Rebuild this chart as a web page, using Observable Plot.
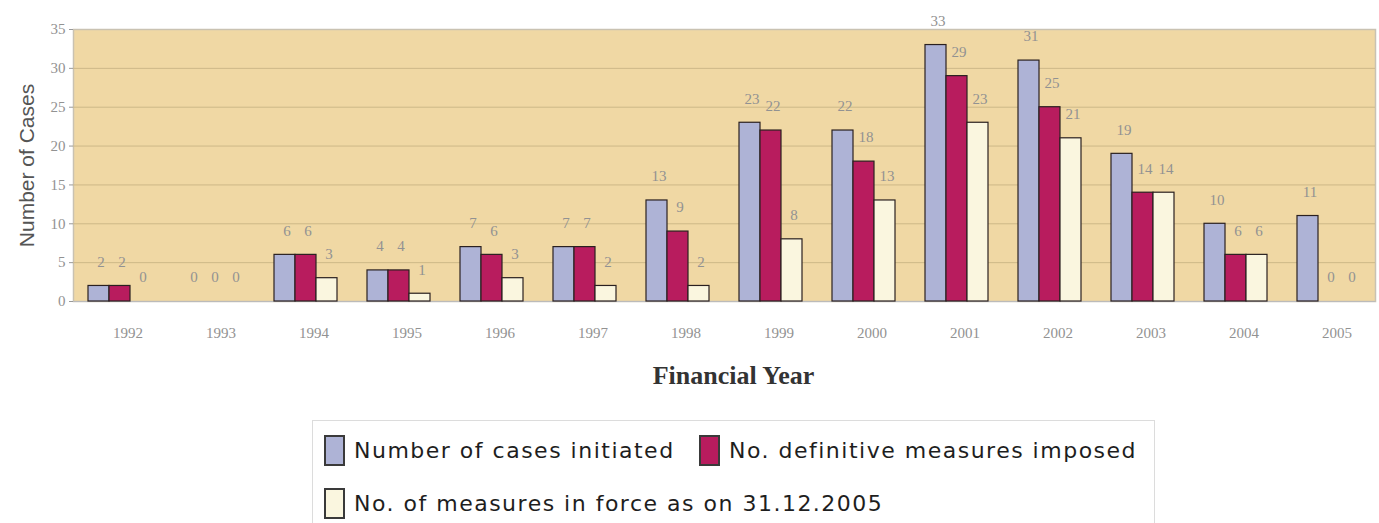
<!DOCTYPE html>
<html>
<head>
<meta charset="utf-8">
<script src="https://cdn.jsdelivr.net/npm/d3@7"></script>
<script src="https://cdn.jsdelivr.net/npm/@observablehq/plot@0.6"></script>
<style>
  html, body { margin: 0; padding: 0; background: #fff; }
  #wrap { position: relative; width: 1379px; height: 523px; overflow: hidden; }
  #chart { position: absolute; left: 0; top: 0; }
  #legend {
    position: absolute; left: 312px; top: 420px; width: 843px; height: 110px;
    border: 1.5px solid #dcdcdc; box-sizing: border-box;
    font-family: "DejaVu Sans", Verdana, sans-serif; font-size: 22px; letter-spacing: 1.5px; color: #1e1e1e;
  }
  .item { position: absolute; display: flex; align-items: center; white-space: nowrap; height: 32px; }
  .sw { width: 21px; height: 31px; border: 2px solid #3a3a3a; margin-right: 9px; box-sizing: border-box; }
</style>
</head>
<body>
<div id="wrap">
  <div id="chart"></div>
  <div id="legend"></div>
</div>
<script>
const years = ["1992","1993","1994","1995","1996","1997","1998","1999","2000","2001","2002","2003","2004","2005"];
const seriesNames = ["Number of cases initiated", "No. definitive measures imposed", "No. of measures in force as on 31.12.2005"];
const seriesColors = ["#aeb3d6", "#b81c5e", "#faf6df"];
const casesInitiated = [2, 0, 6, 4, 7, 7, 13, 23, 22, 33, 31, 19, 10, 11];
const definitiveMeasures = [2, 0, 6, 4, 6, 7, 9, 22, 18, 29, 25, 14, 6, 0];
const measuresInForce = [0, 0, 3, 1, 3, 2, 2, 8, 13, 23, 21, 14, 6, 0];
const yTicks = [0, 5, 10, 15, 20, 25, 30, 35];

const allSeries = [casesInitiated, definitiveMeasures, measuresInForce];
const data = [];
years.forEach((yr, i) => {
  allSeries.forEach((arr, s) => data.push({year: yr, series: seriesNames[s], value: arr[i]}));
});

const chart = Plot.plot({
  width: 1379,
  height: 400,
  marginLeft: 72,
  marginRight: 3,
  marginTop: 29,
  marginBottom: 99,
  style: {background: "transparent"},
  fx: {domain: years, padding: 0, label: null, axis: null},
  x: {domain: seriesNames, paddingInner: 0, paddingOuter: 0.62, axis: null},
  y: {domain: [0, 35], ticks: yTicks, axis: null},
  color: {domain: seriesNames, range: seriesColors},
  marks: [
    Plot.frame({fill: "#f0d8a4", stroke: "#c9c2b2", strokeWidth: 1.5, facet: "super"}),
    Plot.ruleY(yTicks.slice(1, -1), {stroke: "#cdb888", strokeWidth: 1}),
    Plot.ruleY([0], {stroke: "#bbb"}),
    Plot.barY(data, {fx: "year", x: "series", y: "value", fill: "series", stroke: "#2a2020", strokeWidth: 1.2, inset: 0}),
    Plot.text(data, {fx: "year", x: "series", y: "value", text: d => String(d.value), dy: -24, dx: 2,
      fill: "#929292", fontFamily: "Liberation Serif, Times New Roman, serif", fontSize: 15}),
    Plot.axisY({ticks: yTicks, tickSize: 4, tickPadding: 4, stroke: "#999", color: "#929292",
      fontFamily: "Liberation Serif, serif", fontSize: 15,
      label: "Number of Cases", labelAnchor: "center", labelOffset: 54, labelArrow: "none"}),
    Plot.axisFx({anchor: "bottom", tickSize: 0, tickPadding: 26, color: "#929292", dx: 8,
      fontFamily: "Liberation Serif, serif", fontSize: 15,
      label: "Financial Year", labelAnchor: "center", labelOffset: 82, labelArrow: "none"})
  ]
});

// style axis labels
chart.querySelectorAll("[aria-label='y-axis label'] text, [aria-label='y-axis label']").forEach(el => {
  el.setAttribute("font-family", "Liberation Sans, Arial, sans-serif");
  el.setAttribute("font-size", "21");
  el.setAttribute("fill", "#555");
});
chart.querySelectorAll("[aria-label='fx-axis label'] text, [aria-label='fx-axis label']").forEach(el => {
  el.setAttribute("font-family", "Liberation Serif, Times New Roman, serif");
  el.setAttribute("font-size", "26");
  el.setAttribute("font-weight", "bold");
  el.setAttribute("fill", "#333");
});
chart.querySelectorAll("[aria-label='fx-axis label'] text").forEach(el => el.setAttribute("dx", "9"));
document.getElementById("chart").appendChild(chart);

// legend
const legend = document.getElementById("legend");
const pos = [[11, 13], [386, 13], [11, 66]];
seriesNames.forEach((name, i) => {
  const it = document.createElement("div");
  it.className = "item";
  it.style.left = pos[i][0] + "px";
  it.style.top = pos[i][1] + "px";
  const sw = document.createElement("span");
  sw.className = "sw";
  sw.style.background = seriesColors[i];
  it.appendChild(sw);
  const t = document.createElement("span");
  t.textContent = name;
  it.appendChild(t);
  legend.appendChild(it);
});
</script>
</body>
</html>
